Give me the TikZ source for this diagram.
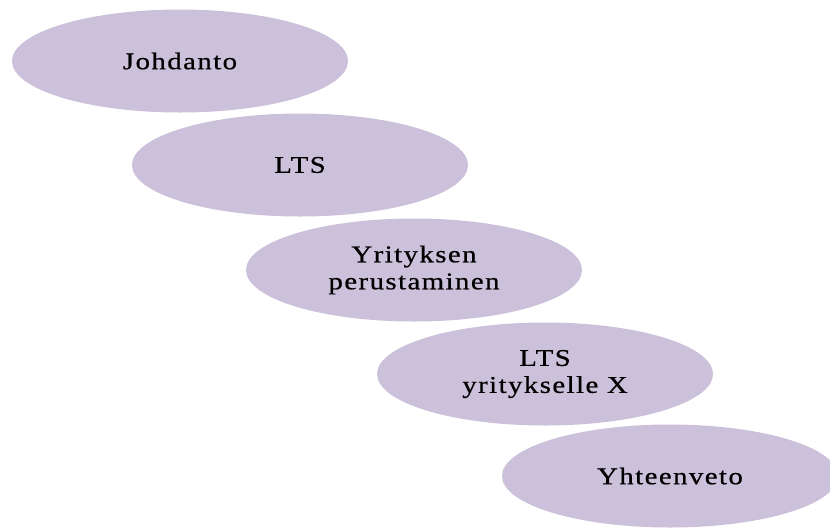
\documentclass[tikz,border=0pt]{standalone}
\usepackage{fontspec}
\setmainfont{Liberation Serif}[FakeStretch=1.2,LetterSpace=6,FakeBold=0.6]
\usepackage{tikz}
\usepackage{xcolor}
\usetikzlibrary{positioning,shapes.geometric}
\definecolor{lavender}{RGB}{204,193,218}

\begin{document}
\begin{tikzpicture}[x=1pt,y=-1pt,font=\fontsize{24}{27}\selectfont,
  el/.style={ellipse,fill=lavender,inner sep=0pt,minimum width=336pt,
             minimum height=103pt,align=center}]
  \useasboundingbox (0,0) rectangle (830,528);
  \node[el] (intro) at (180,61) {Johdanto};
  \node[el] (lts) at (300,165) {LTS};
  \node[el] (found) at (414,270) {Yrityksen\\perustaminen};
  \node[el] (ltsx) at (545,374) {LTS\\yritykselle X};
  \node[el] (summary) at (670,476) {Yhteenveto};
\end{tikzpicture}
\end{document}
